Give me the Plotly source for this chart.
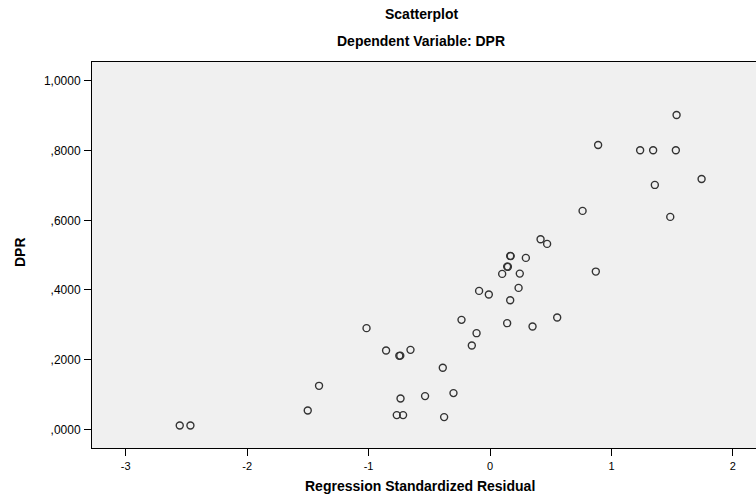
import plotly.graph_objects as go

# Regression standardized residual (x) vs DPR (y)
residual = [-2.555, -2.467, -1.501, -1.408, -1.017, -0.856, -0.747, -0.739, -0.655,
            -0.389, -0.737, -0.768, -0.716, -0.535, -0.378, -0.301, -0.235, -0.150,
            -0.111, -0.090, -0.010, 0.166, 0.141, 0.350, 0.553, 0.235, 0.100, 0.245,
            0.141, 0.147, 0.166, 0.170, 0.295, 0.416, 0.470, 0.762, 0.871, 0.890,
            1.236, 1.343, 1.530, 1.536, 1.357, 1.742, 1.484]
dpr = [0.0109, 0.0109, 0.0539, 0.1248, 0.2904, 0.2261, 0.2109, 0.2115, 0.2281,
       0.1765, 0.0884, 0.0407, 0.0407, 0.0953, 0.0350, 0.1039, 0.3142, 0.2405,
       0.2760, 0.3974, 0.3868, 0.3707, 0.3047, 0.2950, 0.3208, 0.4060, 0.4462, 0.4470,
       0.4671, 0.4665, 0.4978, 0.4972, 0.4921, 0.5458, 0.5323, 0.6270, 0.4528, 0.8164,
       0.8011, 0.8011, 0.8011, 0.9024, 0.7016, 0.7188, 0.6098]

x_ticks = [-3, -2, -1, 0, 1, 2]
x_tick_text = ["-3", "-2", "-1", "0", "1", "2"]
y_ticks = [0.0, 0.2, 0.4, 0.6, 0.8, 1.0]
y_tick_text = [",0000", ",2000", ",4000", ",6000", ",8000", "1,0000"]

W, H = 756, 496
L, R, T, B = 92, 0, 62, 48
PW, PH = W - L - R, H - T - B

def px(x):
    return (x - L) / PW

def py(y):
    return (H - B - y) / PH

FONT = "Liberation Sans, Arial, sans-serif"

fig = go.Figure(go.Scatter(
    x=residual, y=dpr, mode="markers",
    marker=dict(symbol="circle-open", size=7, color="#333333", line=dict(width=1.4, color="#333333")),
    hoverinfo="x+y", showlegend=False,
))

fig.update_layout(
    width=W, height=H,
    margin=dict(l=L, r=R, t=T, b=B),
    paper_bgcolor="white", plot_bgcolor="#F0F0F0",
    font=dict(family=FONT, color="black"),
    xaxis=dict(range=[-3.2775, 2.19], tickvals=x_ticks, ticktext=x_tick_text,
               showgrid=False, zeroline=False, showline=True, linecolor="black", linewidth=1,
               mirror=True, ticks="outside", ticklen=7, tickcolor="black", tickwidth=1,
               tickfont=dict(size=11, family=FONT), ticklabelstandoff=1),
    yaxis=dict(range=[-0.0537, 1.0545], tickvals=y_ticks, ticktext=y_tick_text,
               showgrid=False, zeroline=False, showline=True, linecolor="black", linewidth=1,
               ticks="outside", ticklen=7, tickcolor="black", tickwidth=1,
               tickfont=dict(size=12, family=FONT), ticklabelstandoff=1),
    annotations=[
        dict(text="<b>Scatterplot</b>", x=px(421), y=py(14), xref="paper", yref="paper",
             showarrow=False, xanchor="center", yanchor="middle", font=dict(size=14, family=FONT)),
        dict(text="<b>Dependent Variable: DPR</b>", x=px(421), y=py(41), xref="paper", yref="paper",
             showarrow=False, xanchor="center", yanchor="middle", font=dict(size=14, family=FONT)),
        dict(text="<b>Regression Standardized Residual</b>", x=px(420), y=py(486), xref="paper", yref="paper",
             showarrow=False, xanchor="center", yanchor="middle", font=dict(size=14, family=FONT)),
        dict(text="<b>DPR</b>", x=px(20), y=py(252), xref="paper", yref="paper", textangle=-90,
             showarrow=False, xanchor="center", yanchor="middle", font=dict(size=14, family=FONT)),
    ],
)

fig.write_html("out.html", config={"displayModeBar": False},
               post_script="document.body.style.margin='0';document.body.style.overflow='hidden';")
